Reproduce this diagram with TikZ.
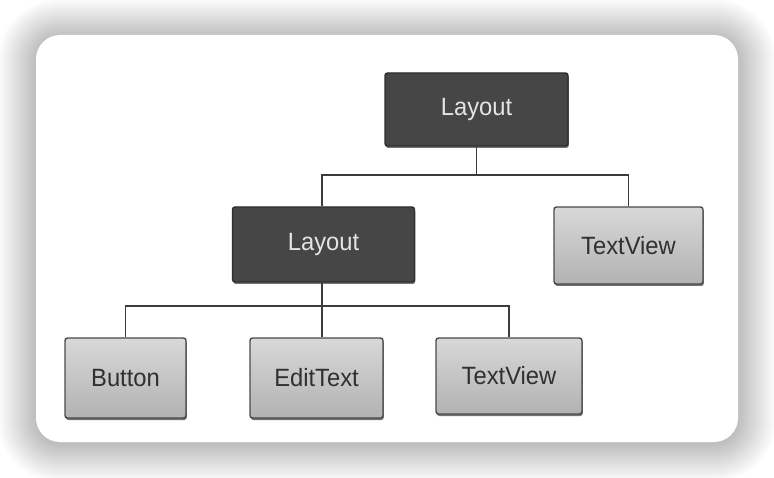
\documentclass[tikz,border=0pt]{standalone}
\usepackage{fontspec}
\setmainfont{Liberation Sans}
\usetikzlibrary{shadows}
\definecolor{darkbox}{HTML}{464646}
\definecolor{darkedge}{HTML}{2E2E2E}
\definecolor{greytop}{HTML}{D8D8D8}
\definecolor{greybot}{HTML}{B2B2B2}
\definecolor{greyedge}{HTML}{4A4A4A}
\definecolor{conncol}{HTML}{3C3C3C}
\definecolor{greytext}{HTML}{303030}
\definecolor{lighttext}{HTML}{E4E4E4}
\newcommand{\lbl}[1]{\scalebox{0.95}[1]{#1}}
\begin{document}
\begin{tikzpicture}[x=1pt,y=-1pt,
  box/.style={rectangle, rounded corners=2.5pt, line width=1.4pt, inner sep=0pt,
    font=\fontsize{25}{29}\selectfont,
    drop shadow={shadow xshift=0.8pt, shadow yshift=-2pt, opacity=0.55, fill=black}},
  darknode/.style={box, draw=darkedge, fill=darkbox, text=lighttext},
  greynode/.style={box, draw=greyedge, top color=greytop, bottom color=greybot, text=greytext},
  conn/.style={draw=conncol, line width=1.4pt}]
\useasboundingbox (0,0) rectangle (774,478);
\fill[white] (0,0) rectangle (774,478);
% card shadow
\foreach \i in {1,...,32}{
  \fill[black, opacity=0.0068, rounded corners=24+\i*1.2]
    (36-\i*1.2, 35-\i*1.2+2) rectangle (738+\i*1.2, 442+\i*1.2+2);
}
% card
\fill[white, rounded corners=24] (36,35) rectangle (738,442);
% nodes
\node[darknode, minimum width=183pt, minimum height=73pt] (root) at (476.5,109.5) {\lbl{Layout}};
\node[darknode, minimum width=182pt, minimum height=75pt] (lay2) at (323.5,244.5) {\lbl{Layout}};
\node[greynode, minimum width=149pt, minimum height=77pt] (tv1) at (628.5,245.5) {\lbl{TextView}};
\node[greynode, minimum width=121pt, minimum height=80pt] (btn) at (125.5,378) {\lbl{Button}};
\node[greynode, minimum width=133pt, minimum height=80pt] (edit) at (316.5,378) {\lbl{EditText}};
\node[greynode, minimum width=146pt, minimum height=76pt] (tv2) at (509,376) {\lbl{TextView}};
% buses
\coordinate (bus1) at (0,175);
\coordinate (bus2) at (0,306);
% connectors
\draw[conn] (root.south) -- (root.south |- bus1);
\draw[conn] ([xshift=-1.5pt]lay2.north) |- (tv1.north |- bus1) -- (tv1.north);
\draw[conn] (btn.north) |- (tv2.north |- bus2) -- (tv2.north);
\draw[conn] ([xshift=-1.5pt]lay2.south) -- ([xshift=-1.5pt]lay2.south |- edit.north);
\end{tikzpicture}
\end{document}
